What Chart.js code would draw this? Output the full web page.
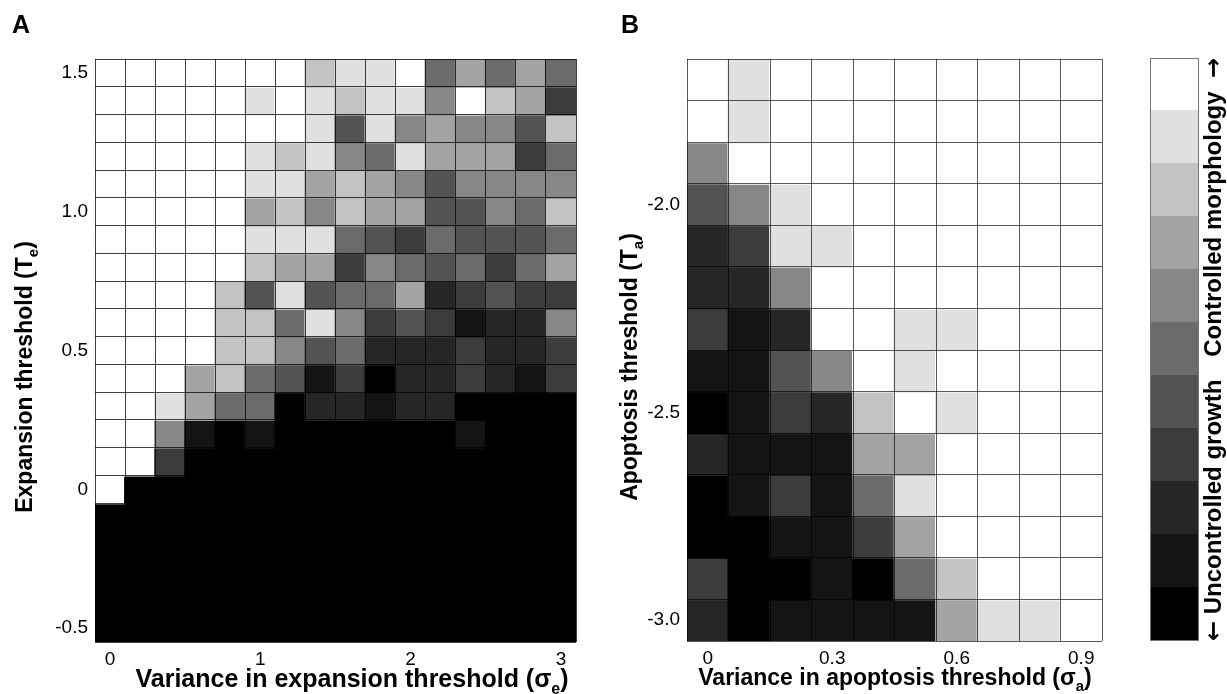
<!DOCTYPE html>
<html>
<head>
<meta charset="utf-8">
<title>Threshold heatmaps</title>
<script src="https://cdn.jsdelivr.net/npm/chart.js@4.4.1/dist/chart.umd.min.js"></script>
<style>
  body { margin: 0; background: #fff; width: 1227px; height: 694px; position: relative; overflow: hidden; }
  canvas { position: absolute; top: 0; }
</style>
</head>
<body>
<canvas id="chartA" width="600" height="694" style="left:0px"></canvas>
<canvas id="chartB" width="530" height="694" style="left:600px"></canvas>
<canvas id="scaleBar" width="97" height="694" style="left:1130px"></canvas>
<script>
// Panel A: variance in expansion threshold (columns) vs expansion threshold (rows)
const sigmaE = ['0', '0.2', '0.4', '0.6', '0.8', '1', '1.2', '1.4', '1.6', '1.8', '2', '2.2', '2.4', '2.6', '2.8', '3'];
const thresholdE = [1.5, 1.4, 1.3, 1.2, 1.1, 1.0, 0.9, 0.8, 0.7, 0.6, 0.5, 0.4, 0.3, 0.2, 0.1, 0.0, -0.1, -0.2, -0.3, -0.4, -0.5];
const xTicksA = ['0', '1', '2', '3'];
const yTickValuesA = [-0.5, 0, 0.5, 1.0, 1.5];
const yTickLabelsA = ['-0.5', '0', '0.5', '1.0', '1.5'];
// score 0 (uncontrolled growth) .. 10 (controlled morphology), one row per threshold
const scoreA = [
    [10, 10, 10, 10, 10, 10, 10, 8, 9, 9, 10, 5, 7, 5, 7, 5],
    [10, 10, 10, 10, 10, 9, 10, 9, 8, 9, 9, 6, 10, 8, 7, 3],
    [10, 10, 10, 10, 10, 10, 10, 9, 4, 9, 6, 7, 6, 6, 4, 8],
    [10, 10, 10, 10, 10, 9, 8, 9, 6, 5, 9, 7, 7, 7, 3, 5],
    [10, 10, 10, 10, 10, 9, 9, 7, 8, 7, 6, 4, 6, 6, 6, 6],
    [10, 10, 10, 10, 10, 7, 8, 6, 8, 7, 7, 4, 4, 6, 5, 8],
    [10, 10, 10, 10, 10, 9, 9, 9, 5, 4, 3, 5, 4, 4, 4, 5],
    [10, 10, 10, 10, 10, 8, 7, 7, 3, 6, 5, 4, 5, 3, 5, 7],
    [10, 10, 10, 10, 8, 4, 9, 4, 5, 5, 7, 2, 3, 4, 3, 3],
    [10, 10, 10, 10, 8, 8, 5, 9, 6, 3, 4, 3, 1, 2, 2, 6],
    [10, 10, 10, 10, 8, 8, 6, 4, 5, 2, 2, 2, 3, 2, 2, 3],
    [10, 10, 10, 7, 8, 5, 4, 1, 3, 0, 2, 2, 3, 2, 1, 3],
    [10, 10, 9, 7, 5, 5, 0, 2, 2, 1, 2, 2, 0, 0, 0, 0],
    [10, 10, 6, 1, 0, 1, 0, 0, 0, 0, 0, 0, 1, 0, 0, 0],
    [10, 10, 3, 0, 0, 0, 0, 0, 0, 0, 0, 0, 0, 0, 0, 0],
    [10, 0, 0, 0, 0, 0, 0, 0, 0, 0, 0, 0, 0, 0, 0, 0],
    [0, 0, 0, 0, 0, 0, 0, 0, 0, 0, 0, 0, 0, 0, 0, 0],
    [0, 0, 0, 0, 0, 0, 0, 0, 0, 0, 0, 0, 0, 0, 0, 0],
    [0, 0, 0, 0, 0, 0, 0, 0, 0, 0, 0, 0, 0, 0, 0, 0],
    [0, 0, 0, 0, 0, 0, 0, 0, 0, 0, 0, 0, 0, 0, 0, 0],
    [0, 0, 0, 0, 0, 0, 0, 0, 0, 0, 0, 0, 0, 0, 0, 0]
];

// Panel B: variance in apoptosis threshold (columns) vs apoptosis threshold (rows)
const sigmaA = ['0', '0.1', '0.2', '0.3', '0.4', '0.5', '0.6', '0.7', '0.8', '0.9'];
const thresholdA = [-1.7, -1.8, -1.9, -2.0, -2.1, -2.2, -2.3, -2.4, -2.5, -2.6, -2.7, -2.8, -2.9, -3.0];
const xTicksB = ['0', '0.3', '0.6', '0.9'];
const yTickValuesB = [-3.0, -2.5, -2.0];
const yTickLabelsB = ['-3.0', '-2.5', '-2.0'];
const scoreB = [
    [10, 9, 10, 10, 10, 10, 10, 10, 10, 10],
    [10, 9, 10, 10, 10, 10, 10, 10, 10, 10],
    [6, 10, 10, 10, 10, 10, 10, 10, 10, 10],
    [4, 6, 9, 10, 10, 10, 10, 10, 10, 10],
    [2, 3, 9, 9, 10, 10, 10, 10, 10, 10],
    [2, 2, 6, 10, 10, 10, 10, 10, 10, 10],
    [3, 1, 2, 10, 10, 9, 9, 10, 10, 10],
    [1, 1, 4, 6, 10, 9, 10, 10, 10, 10],
    [0, 1, 3, 2, 8, 10, 9, 10, 10, 10],
    [2, 1, 1, 1, 7, 7, 10, 10, 10, 10],
    [0, 1, 3, 1, 5, 9, 10, 10, 10, 10],
    [0, 0, 1, 1, 3, 7, 10, 10, 10, 10],
    [3, 0, 0, 1, 0, 5, 8, 10, 10, 10],
    [2, 0, 1, 1, 1, 1, 7, 9, 9, 10]
];

// colour scale levels
const scaleLevels = [0, 1, 2, 3, 4, 5, 6, 7, 8, 9, 10];
const greys = ['#000000', '#141414', '#262626', '#3c3c3c', '#535353', '#6b6b6b',
               '#878787', '#a3a3a3', '#c3c3c3', '#e0e0e0', '#ffffff'];

const FONT = '"Liberation Sans", Arial, Helvetica, sans-serif';
const ARROW_FONT = '"DejaVu Sans", sans-serif';
const STEP = 0.1;

// draw text made of parts (plain / subscript / arrow) starting or centred at (x, y)
function drawRich(ctx, parts, x, y, angle, size, align) {
    ctx.save();
    ctx.translate(x, y);
    ctx.rotate(angle);
    ctx.fillStyle = '#000';
    ctx.textBaseline = 'alphabetic';
    ctx.textAlign = 'left';
    const fontOf = p => p.sub ? `bold ${Math.round(size * 0.65)}px ${FONT}`
        : p.arrow ? `bold ${size}px ${ARROW_FONT}` : `bold ${size}px ${FONT}`;
    let total = 0;
    parts.forEach(p => {
        ctx.font = fontOf(p);
        p.w = ctx.measureText(p.text).width;
        total += p.w;
    });
    let cx = align === 'left' ? 0 : align === 'right' ? -total : -total / 2;
    parts.forEach(p => {
        ctx.font = fontOf(p);
        ctx.fillText(p.text, cx, p.sub ? size * 0.27 : 0);
        cx += p.w;
    });
    ctx.restore();
}

function heatDatasets(rows, grid) {
    return rows.map((t, r) => ({
        data: grid[r].map(() => [t - STEP / 2, t + STEP / 2]),
        backgroundColor: grid[r].map(v => greys[v]),
        borderWidth: 0,
        inflateAmount: 1,
        grouped: false,
        categoryPercentage: 1,
        barPercentage: 1
    }));
}

function heatChart(id, cfg) {
    const lo = Math.min(...cfg.rows) - STEP / 2;
    const hi = Math.max(...cfg.rows) + STEP / 2;
    const bounds = [lo].concat(cfg.rows.map(t => t + STEP / 2));
    const titles = {
        id: 'titles',
        afterDraw(chart) {
            const ctx = chart.ctx;
            drawRich(ctx, cfg.xTitle, cfg.xTitleX, cfg.xTitleY, 0, cfg.xTitleSize, 'center');
            drawRich(ctx, cfg.yTitle, cfg.yTitleX, cfg.yTitleY, -Math.PI / 2, cfg.yTitleSize, 'center');
            ctx.save();
            ctx.font = `bold 25px ${FONT}`;
            ctx.fillStyle = '#000';
            ctx.textAlign = 'left';
            ctx.textBaseline = 'alphabetic';
            ctx.fillText(cfg.letter, cfg.letterX, 33);
            ctx.restore();
        }
    };
    return new Chart(document.getElementById(id), {
        type: 'bar',
        data: { labels: cfg.cols, datasets: heatDatasets(cfg.rows, cfg.grid) },
        plugins: [titles],
        options: {
            responsive: false,
            animation: false,
            devicePixelRatio: 1,
            layout: { padding: { top: 59, right: cfg.padRight, left: 0, bottom: 0 } },
            plugins: { legend: { display: false }, tooltip: { enabled: false } },
            scales: {
                x: {
                    type: 'category',
                    grid: { display: true, offset: true, color: cfg.lineColor, lineWidth: 1, drawTicks: false, z: 1 },
                    border: { display: false },
                    ticks: {
                        autoSkip: false, maxRotation: 0, padding: 6, color: '#000',
                        font: { size: 19, family: FONT },
                        callback: function (v) {
                            const l = this.getLabelForValue(v);
                            return cfg.xTicks.includes(l) ? l : '';
                        }
                    },
                    afterFit: s => { s.height = cfg.xHeight; }
                },
                y: {
                    type: 'linear', min: lo, max: hi,
                    grid: { display: false, drawTicks: false },
                    border: { display: false },
                    afterBuildTicks: s => { s.ticks = cfg.yTickValues.map(v => ({ value: v })); },
                    ticks: {
                        padding: 7, color: '#000',
                        font: { size: 19, family: FONT },
                        callback: (v, i) => cfg.yTickLabels[i]
                    },
                    afterFit: s => { s.width = cfg.yWidth; }
                },
                yg: {
                    type: 'linear', position: 'right', min: lo, max: hi,
                    afterBuildTicks: s => { s.ticks = bounds.map(v => ({ value: v })); },
                    grid: { color: cfg.lineColor, lineWidth: 1, drawTicks: false, z: 1 },
                    border: { display: false },
                    ticks: { display: false },
                    afterFit: s => { s.width = 0; }
                }
            }
        }
    });
}

heatChart('chartA', {
    cols: sigmaE, rows: thresholdE, grid: scoreA,
    xTicks: xTicksA, yTickValues: yTickValuesA, yTickLabels: yTickLabelsA,
    padRight: 24, yWidth: 95, xHeight: 52, lineColor: 'rgba(0,0,0,0.75)',
    xTitle: [{ text: 'Variance in expansion threshold (σ' }, { text: 'e', sub: true }, { text: ')' }],
    xTitleX: 352, xTitleY: 687, xTitleSize: 25,
    yTitle: [{ text: 'Expansion threshold (T' }, { text: 'e', sub: true }, { text: ')' }],
    yTitleX: 32, yTitleY: 377, yTitleSize: 23,
    letter: 'A', letterX: 12
});

heatChart('chartB', {
    cols: sigmaA, rows: thresholdA, grid: scoreB,
    xTicks: xTicksB, yTickValues: yTickValuesB, yTickLabels: yTickLabelsB,
    padRight: 28, yWidth: 87, xHeight: 53, lineColor: 'rgba(0,0,0,0.65)',
    xTitle: [{ text: 'Variance in apoptosis threshold (σ' }, { text: 'a', sub: true }, { text: ')' }],
    xTitleX: 295, xTitleY: 685, xTitleSize: 23,
    yTitle: [{ text: 'Apoptosis threshold (T' }, { text: 'a', sub: true }, { text: ')' }],
    yTitleX: 37, yTitleY: 367, yTitleSize: 23,
    letter: 'B', letterX: 21
});

// colour scale bar
const barLabels = {
    id: 'barLabels',
    afterDraw(chart) {
        const ctx = chart.ctx;
        const a = chart.chartArea;
        ctx.save();
        ctx.strokeStyle = '#777';
        ctx.lineWidth = 1;
        ctx.strokeRect(Math.round(a.left) + 0.5, Math.round(a.top) + 0.5,
            Math.round(a.right - a.left) - 1, Math.round(a.bottom - a.top) - 1);
        ctx.restore();
        drawRich(ctx, [{ text: '←', arrow: true }, { text: ' Uncontrolled growth' }],
            91, a.bottom, -Math.PI / 2, 24, 'left');
        drawRich(ctx, [{ text: 'Controlled morphology  ' }, { text: '→', arrow: true }],
            91, a.top, -Math.PI / 2, 24, 'right');
    }
};

new Chart(document.getElementById('scaleBar'), {
    type: 'bar',
    data: {
        labels: [''],
        datasets: scaleLevels.map(l => ({
            data: [[l - 0.5, l + 0.5]],
            backgroundColor: greys[l],
            borderWidth: 0,
            inflateAmount: 1,
            grouped: false,
            categoryPercentage: 1,
            barPercentage: 1
        }))
    },
    plugins: [barLabels],
    options: {
        responsive: false,
        animation: false,
        devicePixelRatio: 1,
        layout: { padding: { top: 58, bottom: 53, left: 20, right: 28 } },
        plugins: { legend: { display: false }, tooltip: { enabled: false } },
        scales: {
            x: { display: false },
            y: { display: false, min: -0.5, max: 10.5 }
        }
    }
});
</script>
</body>
</html>
